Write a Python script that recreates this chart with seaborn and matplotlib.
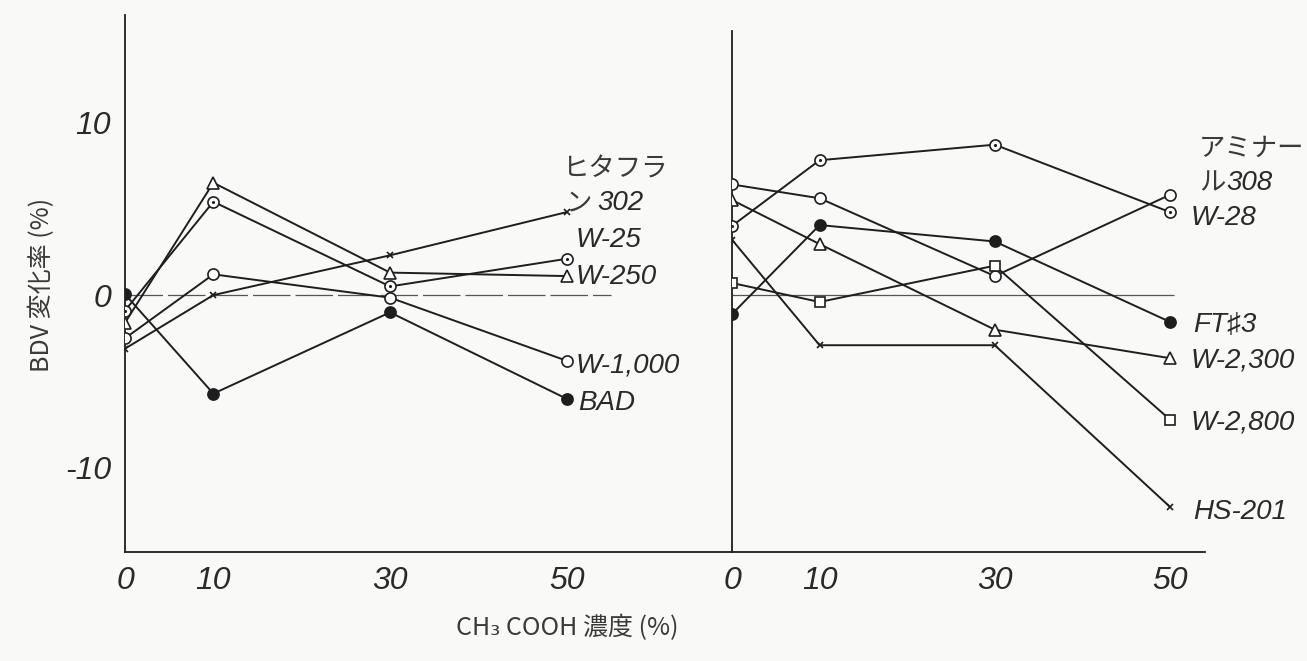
import matplotlib
matplotlib.use("Agg")
import matplotlib.pyplot as plt
import seaborn as sns

sns.set_theme(style="white")
plt.rcParams['font.family'] = ['Noto Sans CJK JP', 'DejaVu Sans']

# ---------------- data ----------------
conc = [0, 10, 30, 50]
x_ticks = [0, 10, 30, 50]
y_ticks = [-10, 0, 10]

# left group (BDV change, %)
hitafuran302 = [-3.1, 0.0, 2.3, 4.8]
w25 = [-0.9, 5.4, 0.5, 2.1]
w250 = [-1.6, 6.5, 1.3, 1.1]
w1000 = [-2.5, 1.2, -0.15, -3.8]
bad = [0.05, -5.7, -1.0, -6.0]

# right group
aminar308 = [6.4, 5.6, 1.1, 5.8]
w28 = [4.0, 7.8, 8.7, 4.8]
ft3 = [-1.1, 4.05, 3.1, -1.55]
w2300 = [5.5, 2.95, -2.0, -3.65]
w2800 = [0.7, -0.4, 1.7, -7.2]
hs201 = [3.2, -2.9, -2.9, -12.25]

INK = "#1e1e1e"
BG = "#f9f9f8"

styles = {
    "filled": dict(marker="o", markersize=8, markerfacecolor=INK),
    "open": dict(marker="o", markersize=8, markerfacecolor="white"),
    "dot": dict(marker="o", markersize=8, markerfacecolor="white"),
    "tri": dict(marker="^", markersize=8, markerfacecolor="white"),
    "sq": dict(marker="s", markersize=7.5, markerfacecolor="white"),
    "x": dict(marker="x", markersize=5),
}

left_series = [
    (hitafuran302, "x"),
    (w25, "dot"),
    (w250, "tri"),
    (w1000, "open"),
    (bad, "filled"),
]
right_series = [
    (aminar308, "open"),
    (w28, "dot"),
    (ft3, "filled"),
    (w2300, "tri"),
    (w2800, "sq"),
    (hs201, "x"),
]

W, H = 1307, 661
fig = plt.figure(figsize=(W / 100, H / 100), dpi=100, facecolor=BG)

ax_l = fig.add_axes([125 / W, (H - 552) / H, (732 - 125) / W, (552 - 15) / H])
ax_r = fig.add_axes([732 / W, (H - 552) / H, (1205 - 732) / W, (552 - 15) / H], sharey=ax_l)

ylim = (-14.86, 16.2)
for ax, xmax in ((ax_l, 68.7), (ax_r, 54.0)):
    ax.set_facecolor(BG)
    ax.set_xlim(0, xmax)
    ax.set_ylim(*ylim)
    for s in ("top", "right"):
        ax.spines[s].set_visible(False)
    for s in ("left", "bottom"):
        ax.spines[s].set_color(INK)
        ax.spines[s].set_linewidth(1.3)

ax_r.spines["left"].set_bounds(ylim[0], 15.3)

tick_font = dict(family=["Liberation Sans", "DejaVu Sans"], style="italic", size=23, color="#2a2a2a")


def draw(ax, series, zero_end, zero_dash):
    ax.hlines(0, 0, zero_end, color="#555555", lw=0.9, linestyles=zero_dash, zorder=1)
    for vals, st in series:
        kw = dict(styles[st])
        sns.lineplot(x=conc, y=vals, ax=ax, color=INK, lw=1.4,
                     markeredgecolor=INK, markeredgewidth=1.2, zorder=3, **kw)
        if st == "dot":
            sns.scatterplot(x=conc, y=vals, ax=ax, color=INK, s=5, linewidth=0, zorder=4)


draw(ax_l, left_series, 55, (0, (30, 4)))
draw(ax_r, right_series, 50.5, "solid")

ax_l.set_xticks(x_ticks)
ax_l.set_xticklabels([str(v) for v in x_ticks], fontdict=tick_font)
ax_r.set_xticks(x_ticks)
ax_r.set_xticklabels([str(v) for v in x_ticks], fontdict=tick_font)
ax_l.set_yticks(y_ticks)
ax_l.set_yticklabels([("-" if v < 0 else "") + str(abs(v)) for v in y_ticks], fontdict=tick_font)
ax_l.tick_params(axis="both", direction="in", length=8, width=1.1, color=INK, pad=10)
ax_r.tick_params(axis="x", direction="in", length=8, width=1.1, color=INK, pad=10)
ax_r.tick_params(axis="y", left=False, labelleft=False)
ax_l.set_xlabel("")
ax_r.set_xlabel("")
ax_l.set_ylabel("")

lab_font = dict(family=["Liberation Sans", "Noto Sans CJK JP", "DejaVu Sans"], style="italic", size=20,
                color="#2a2a2a", va="center", ha="left")
jp_font = dict(family=["Noto Sans CJK JP", "DejaVu Sans"], size=19, color="#3a3a3a", va="center", ha="left")

ax_l.text(49.5, 7.3, "ヒタフラ", **jp_font)
ax_l.text(49.8, 5.3, "ン", **jp_font)
ax_l.text(53.5, 5.3, "302", **lab_font)
ax_l.text(51.0, 3.2, "W-25", **lab_font)
ax_l.text(51.0, 1.05, "W-250", **lab_font)
ax_l.text(51.0, -4.1, "W-1,000", **lab_font)
ax_l.text(51.3, -6.25, "BAD", **lab_font)

ax_r.text(53.3, 8.5, "アミナー", **jp_font)
ax_r.text(53.3, 6.5, "ル", **jp_font)
ax_r.text(56.4, 6.5, "308", **lab_font)
ax_r.text(52.4, 4.45, "W-28", **lab_font)
ax_r.text(52.6, -1.75, "FT♯3", **lab_font)
ax_r.text(52.4, -3.76, "W-2,300", **lab_font)
ax_r.text(52.4, -7.35, "W-2,800", **lab_font)
ax_r.text(52.6, -12.55, "HS-201", **lab_font)

fig.text(42 / W, 1 - 285 / H, "BDV 変化率 (%)", rotation=90, ha="center", va="center",
         family=["Noto Sans CJK JP", "DejaVu Sans"], size=18, color="#3a3a3a")
fig.text(567 / W, 1 - 628 / H, "CH₃ COOH 濃度 (%)", ha="center", va="center",
         family=["Noto Sans CJK JP", "DejaVu Sans"], size=18, color="#3a3a3a")

fig.savefig("out.png", dpi=100, facecolor=BG)
